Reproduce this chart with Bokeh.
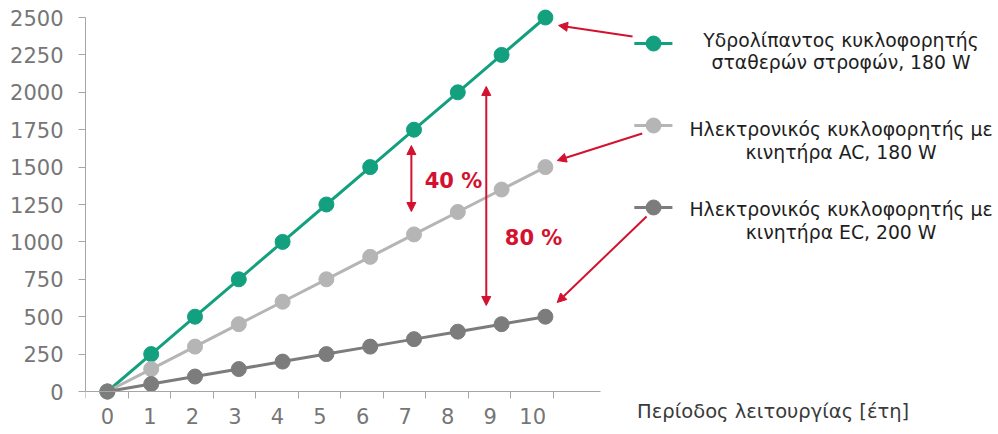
from bokeh.plotting import figure
from bokeh.models import FixedTicker, Arrow, NormalHead, Label, Range1d
from bokeh.embed import file_html
from bokeh.resources import INLINE

# ---------------- data ----------------
years = [0, 1, 2, 3, 4, 5, 6, 7, 8, 9, 10]
hydro = [0, 250, 500, 750, 1000, 1250, 1500, 1750, 2000, 2250, 2500]
elec_ac = [0, 150, 300, 450, 600, 750, 900, 1050, 1200, 1350, 1500]
elec_ec = [0, 50, 100, 150, 200, 250, 300, 350, 400, 450, 500]
y_ticks = [0, 250, 500, 750, 1000, 1250, 1500, 1750, 2000, 2250, 2500]
x_tick_labels = ["0", "1", "2", "3", "4", "5", "6", "7", "8", "9", "10"]
legend_lines = [
    ["Υδρολίπαντος κυκλοφορητής", "σταθερών στροφών, 180 W"],
    ["Ηλεκτρονικός κυκλοφορητής με", "κινητήρα AC, 180 W"],
    ["Ηλεκτρονικός κυκλοφορητής με", "κινητήρα EC, 200 W"],
]
pct_labels = ["40 %", "80 %"]
x_title = "Περίοδος λειτουργίας [έτη]"

# ---------------- style ----------------
GREEN = "#13A07F"
LGRAY = "#B5B5B5"
DGRAY = "#7C7C7C"
RED = "#D2122E"
FONT = "DejaVu Sans"
colors = [GREEN, LGRAY, DGRAY]

PX_X = 43.8      # px per year
PX_Y = 0.1496    # px per unit
LEFT = 85
FRAME_W = 998 - LEFT
FRAME_H = 434
ZERO_PX = 391    # pixel row of value 0 (from top)

x0 = -0.5
y0 = -(FRAME_H - ZERO_PX) / PX_Y
p = figure(
    frame_width=FRAME_W, frame_height=FRAME_H,
    x_range=Range1d(x0, x0 + FRAME_W / PX_X),
    y_range=Range1d(y0, y0 + FRAME_H / PX_Y),
    output_backend="svg", toolbar_location=None,
    min_border_left=LEFT, min_border_right=0, min_border_top=0, min_border_bottom=0,
    background_fill_color="white", border_fill_color="white",
)
p.outline_line_color = None
p.grid.visible = False

# axes
step = 0.971
p.xaxis.ticker = FixedTicker(ticks=[i * step for i in range(len(years))],
                             minor_ticks=[x0 + k * step for k in range(12)])
p.xaxis.major_label_overrides = {i * step: lab for i, lab in enumerate(x_tick_labels)}
p.xaxis.fixed_location = 0
p.xaxis.bounds = (x0, 11.26)
p.xaxis.major_tick_out = 0
p.xaxis.major_tick_in = 0
p.xaxis.minor_tick_out = 7
p.xaxis.minor_tick_in = 0
p.xaxis.major_label_standoff = 9
p.yaxis.ticker = FixedTicker(ticks=y_ticks, minor_ticks=[])
p.yaxis.bounds = (0, 2500)
p.yaxis.major_tick_out = 7
p.yaxis.major_tick_in = 0
p.yaxis.major_label_standoff = 15
for ax in (p.xaxis, p.yaxis):
    ax.axis_line_color = "#A6A6A6"
    ax.axis_line_width = 1
    ax.major_tick_line_color = "#A6A6A6"
    ax.minor_tick_line_color = "#A6A6A6"
    ax.major_label_text_font = FONT
    ax.major_label_text_font_size = "21px"
    ax.major_label_text_color = "#767676"

# series
for vals, c in zip([hydro, elec_ac, elec_ec], colors):
    p.line(years, vals, line_color=c, line_width=3)
    p.scatter(years, vals, size=15, fill_color=c, line_color=c)

# legend (manual, positioned like the reference)
leg_y = [2326, 1778, 1230]
text_y = [(2346, 2199), (1752, 1598), (1217, 1063)]
for c, ly in zip(colors, leg_y):
    p.line([12.03, 12.90], [ly, ly], line_color=c, line_width=3)
    p.scatter([12.47], [ly], size=15, fill_color=c, line_color=c)
for lines, ys in zip(legend_lines, text_y):
    for t, yy in zip(lines, ys):
        p.add_layout(Label(x=16.75, y=yy, text=t, text_align="center",
                           text_baseline="middle", text_font=FONT,
                           text_font_size="18.8px", text_color="#1E1E1E"))

# arrows
def arr(xs, ys, xe, ye, both=False):
    kw = {}
    if both:
        kw["start"] = NormalHead(size=9, fill_color=RED, line_color=RED)
    p.add_layout(Arrow(end=NormalHead(size=9, fill_color=RED, line_color=RED),
                       x_start=xs, y_start=ys, x_end=xe, y_end=ye,
                       line_color=RED, line_width=2, **kw))

arr(11.99, 2373, 10.30, 2447)
arr(12.21, 1725, 10.27, 1544)
arr(12.31, 1170, 10.27, 595)
arr(6.94, 1644, 6.94, 1203, both=True)
arr(8.65, 2039, 8.65, 575, both=True)

for t, xx, yy in zip(pct_labels, [7.90, 9.73], [1404, 1023]):
    p.add_layout(Label(x=xx, y=yy, text=t, text_align="center", text_baseline="middle",
                       text_font=FONT, text_font_size="21px", text_font_style="bold",
                       text_color=RED))

p.add_layout(Label(x=15.2, y=-134, text=x_title, text_align="center",
                   text_baseline="middle", text_font=FONT, text_font_size="19.5px",
                   text_color="#3A3A3A"))

open("out.html", "w").write(file_html(p, INLINE))
